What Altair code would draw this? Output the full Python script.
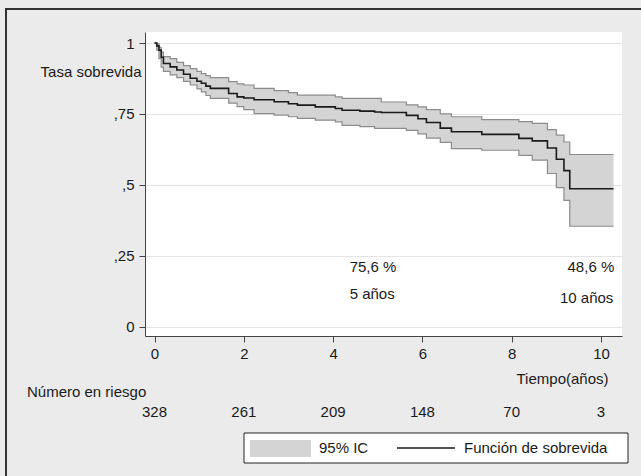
import altair as alt
import pandas as pd

# ---- data (Kaplan-Meier estimate with 95% CI) ----
tiempo = [0.00, 0.05, 0.10, 0.15, 0.20, 0.35, 0.50, 0.65, 0.80, 0.95, 1.05, 1.15,
          1.25, 1.66, 1.85, 2.00, 2.23, 2.68, 3.00, 3.20, 3.60, 4.05, 4.20, 4.60,
          4.93, 5.08, 5.64, 5.90, 6.09, 6.40, 6.65, 7.33, 8.16, 8.46, 8.80, 9.00,
          9.17, 9.30, 10.28]
supervivencia = [1.000, 0.990, 0.975, 0.950, 0.928, 0.916, 0.905, 0.890, 0.876, 0.865,
                 0.858, 0.848, 0.840, 0.822, 0.810, 0.806, 0.800, 0.793, 0.786, 0.781,
                 0.775, 0.769, 0.763, 0.760, 0.757, 0.755, 0.745, 0.733, 0.720, 0.700,
                 0.687, 0.678, 0.664, 0.655, 0.630, 0.590, 0.550, 0.486, 0.486]
ic_inferior = [1.000, 0.975, 0.945, 0.915, 0.900, 0.888, 0.878, 0.865, 0.852, 0.838,
               0.828, 0.815, 0.805, 0.788, 0.776, 0.765, 0.751, 0.746, 0.740, 0.734,
               0.728, 0.722, 0.710, 0.705, 0.699, 0.699, 0.692, 0.680, 0.665, 0.650,
               0.628, 0.622, 0.604, 0.587, 0.540, 0.490, 0.445, 0.354, 0.354]
ic_superior = [1.000, 0.998, 0.985, 0.968, 0.952, 0.945, 0.932, 0.920, 0.910, 0.900,
               0.892, 0.885, 0.878, 0.864, 0.856, 0.852, 0.840, 0.832, 0.825, 0.816,
               0.816, 0.810, 0.805, 0.805, 0.805, 0.792, 0.782, 0.775, 0.765, 0.750,
               0.740, 0.730, 0.723, 0.717, 0.695, 0.675, 0.651, 0.607, 0.607]

riesgo_t = [0, 2, 4, 6, 8, 10]
riesgo_n = ["328", "261", "209", "148", "70", "3"]

x_ticks = [0, 2, 4, 6, 8, 10]
y_ticks = [0, 0.25, 0.5, 0.75, 1]
y_labels = ["0", ",25", ",5", ",75", "1"]

anot_t = [4.37, 4.37, 9.25, 9.08]
anot_s = [0.211, 0.114, 0.211, 0.0995]
anot_txt = ["75,6 %", "5 años", "48,6 %", "10 años"]

FONT = "Liberation Sans"
FS = 15
TXT = "#1a1a1a"
W, H = 477, 304

df = pd.DataFrame({"t": tiempo, "s": supervivencia, "lo": ic_inferior, "hi": ic_superior})
df_riesgo = pd.DataFrame({"t": riesgo_t, "n": riesgo_n})
df_anot = pd.DataFrame({"t": anot_t, "s": anot_s, "txt": anot_txt})
df_one = pd.DataFrame({"a": [0]})

xs = alt.Scale(domain=[-0.213, 10.47], nice=False, zero=False)
ys = alt.Scale(domain=[-0.0328, 1.0388], nice=False, zero=False)

label_expr = " : ".join(f"datum.value == {v} ? '{l}'" for v, l in zip(y_ticks, y_labels)) + " : ''"

x_axis = alt.Axis(values=x_ticks, format="d", title="Tiempo(años)", titleX=463, titleY=42,
                  titleAlign="right", titleBaseline="middle", titleFontWeight="normal",
                  titleFontSize=FS, labelFontSize=FS, tickSize=6, labelPadding=4, grid=False,
                  domainColor="#444", tickColor="#444", labelColor=TXT, titleColor=TXT)
y_axis = alt.Axis(values=y_ticks, labelExpr=label_expr, title="Tasa sobrevida", titleAngle=0,
                  titleX=-4, titleY=39, titleAlign="right", titleBaseline="middle",
                  titleFontWeight="normal", titleFontSize=FS, labelFontSize=FS, tickSize=6,
                  labelPadding=5, grid=True, gridColor="#e4e4e4", domainColor="#444",
                  tickColor="#444", labelColor=TXT, titleColor=TXT)


def X(field="t"):
    return alt.X(f"{field}:Q", scale=xs, axis=x_axis)


def Y(field):
    return alt.Y(f"{field}:Q", scale=ys, axis=y_axis)


banda = alt.Chart(df).mark_area(interpolate="step-after", color="#d4d4d4").encode(
    x=X(), y=Y("lo"), y2="hi:Q")
borde_inf = alt.Chart(df).mark_line(interpolate="step-after", color="#8c8c8c", strokeWidth=1.2).encode(
    x=X(), y=Y("lo"))
borde_sup = alt.Chart(df).mark_line(interpolate="step-after", color="#8c8c8c", strokeWidth=1.2).encode(
    x=X(), y=Y("hi"))
curva = alt.Chart(df).mark_line(interpolate="step-after", color="#1a1a1a", strokeWidth=1.6).encode(
    x=X(), y=Y("s"))

anotaciones = alt.Chart(df_anot).mark_text(align="left", baseline="middle", font=FONT,
                                           fontSize=FS, color=TXT).encode(
    x=X(), y=Y("s"), text="txt:N")

riesgo = alt.Chart(df_riesgo).mark_text(align="center", baseline="middle", font=FONT,
                                        fontSize=FS, color=TXT).encode(
    x=X(), y=alt.value(380), text="n:N")
riesgo_titulo = alt.Chart(df_one).mark_text(align="left", baseline="middle", font=FONT,
                                            fontSize=FS, color=TXT, text="Número en riesgo").encode(
    x=alt.value(-118), y=alt.value(360))

# outer frame (top and left edges visible)
marco = alt.Chart(df_one).mark_rect(fillOpacity=0, stroke="#333333", strokeWidth=2).encode(
    x=alt.value(-139), y=alt.value(-23), x2=alt.value(900), y2=alt.value(900))

# legend box
ley_caja = alt.Chart(df_one).mark_rect(fill="white", stroke="#222222", strokeWidth=1).encode(
    x=alt.value(99), x2=alt.value(483), y=alt.value(401), y2=alt.value(431))
ley_muestra = alt.Chart(df_one).mark_rect(fill="#d4d4d4").encode(
    x=alt.value(105), x2=alt.value(166), y=alt.value(408), y2=alt.value(425))
ley_txt1 = alt.Chart(df_one).mark_text(align="left", baseline="middle", font=FONT, fontSize=FS,
                                       color=TXT, text="95% IC").encode(
    x=alt.value(174), y=alt.value(416))
ley_linea = alt.Chart(df_one).mark_rule(color="#1a1a1a", strokeWidth=1.4).encode(
    x=alt.value(252), x2=alt.value(310), y=alt.value(416))
ley_txt2 = alt.Chart(df_one).mark_text(align="left", baseline="middle", font=FONT, fontSize=FS,
                                       color=TXT, text="Función de sobrevida").encode(
    x=alt.value(319), y=alt.value(416))

chart = alt.layer(
    banda, borde_inf, borde_sup, curva, anotaciones, riesgo, riesgo_titulo,
    marco, ley_caja, ley_muestra, ley_txt1, ley_linea, ley_txt2
).properties(
    width=W, height=H,
    autosize=alt.AutoSizeParams(type="none"),
    padding={"left": 145, "top": 32, "right": 19, "bottom": 140},
    background="#ebebeb",
).configure_view(
    fill="white", strokeWidth=0
).configure_axis(
    labelFont=FONT, titleFont=FONT
)

chart.save("out.html", embed_options={"renderer": "svg", "actions": False})
